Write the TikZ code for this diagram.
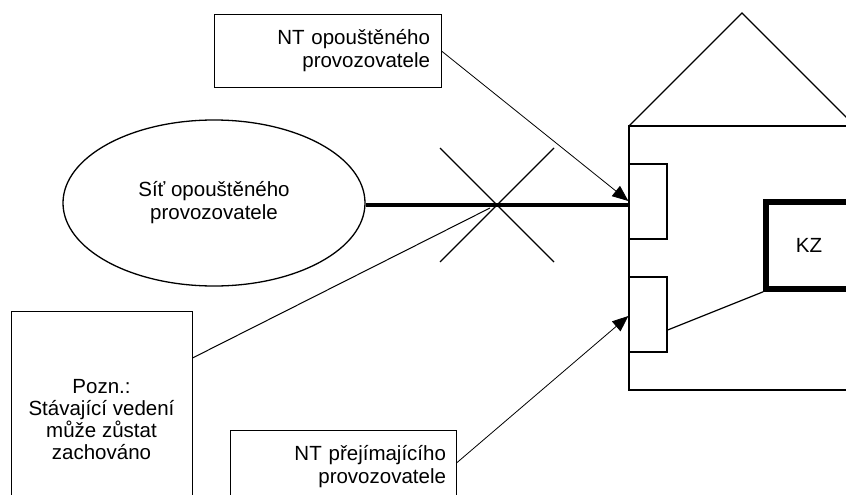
\documentclass[tikz,border=0pt]{standalone}
\usepackage{fontspec}
\setmainfont{Liberation Sans}
\usetikzlibrary{shapes.geometric,arrows.meta}
\begin{document}
\begin{tikzpicture}[x=1pt,y=-1pt,
  font=\fontsize{20.5}{23}\selectfont,
  thinline/.style={line width=0.8pt},
  outline/.style={line width=1.3pt},
  labelbox/.style={draw, line width=1pt, inner xsep=11pt, inner ysep=0pt, align=right, minimum height=73pt},
  arrowtip/.style={-{Triangle[length=16pt,width=13pt]}}]
\useasboundingbox (0,0) rectangle (846,495);
\clip (0,0) rectangle (846,495);
% house
\draw[outline] (629,126) rectangle (855,390);
\draw[outline] (629,126) -- (742,13) -- (855,126);
\node[draw, outline, minimum width=38pt, minimum height=75pt, inner sep=0pt] (nt1) at (648,201.5) {};
\node[draw, outline, minimum width=38pt, minimum height=75pt, inner sep=0pt] (nt2) at (648,314.5) {};
\node[draw, line width=5.5pt, minimum width=86pt, minimum height=87pt, inner sep=0pt] (kz) at (809,245.5) {KZ};
\draw[line width=1.2pt] ([yshift=-15.5pt]nt2.east) -- (kz.south west);
% network
\node[draw, ellipse, outline, minimum width=302pt, minimum height=166pt, inner sep=0pt, align=center] (net) at (214,203) {Síť opouštěného\\provozovatele};
\draw[line width=4.5pt] ([yshift=-2pt]net.east) -- ([yshift=-2pt]net.east -| nt1.west);
% cross
\draw[outline] (440,148) -- (554,262);
\draw[outline] (554,148) -- (440,262);
% labels
\node[labelbox, text width=205pt] (ntold) at (327.5,51) {NT opouštěného\\provozovatele};
\node[labelbox, text width=206pt, inner xsep=10pt] (ntnew) at (343,466.5) {NT přejímajícího\\provozovatele};
\node[draw, line width=1pt, minimum width=181pt, minimum height=218pt, align=center, inner sep=0pt, font=\fontsize{20.5}{22}\selectfont] (pozn) at (101.5,420) {Pozn.:\\Stávající vedení\\může zůstat\\zachováno};
\coordinate (poznend) at (490,208);
\draw[thinline, arrowtip] (ntold.east) -- ([yshift=0.5pt]nt1.west);
\draw[thinline, arrowtip] ([yshift=3.5pt]ntnew.east) -- ([yshift=-1.5pt]nt2.west);
\draw[line width=1pt] ([yshift=62pt]pozn.east) -- (poznend);
\end{tikzpicture}
\end{document}
